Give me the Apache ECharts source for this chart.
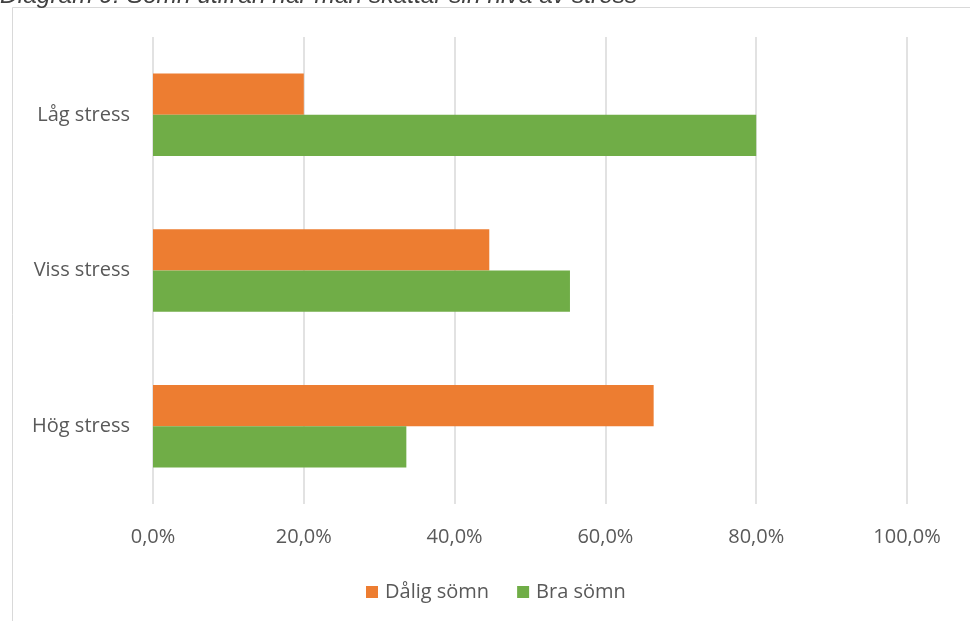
<!DOCTYPE html>
<html>
<head>
<meta charset="utf-8">
<script src="https://cdn.jsdelivr.net/npm/echarts@6/dist/echarts.min.js"></script>
<style>html,body{margin:0;padding:0;background:#fff}#c{width:970px;height:621px}</style>
</head>
<body>
<div id="c"></div>
<script>
const titleText = 'Diagram 9: Sömn utifrån när man skattar sin nivå av stress';
const categories = ['Låg stress', 'Viss stress', 'Hög stress'];
const seriesNames = ['Dålig sömn', 'Bra sömn'];
const daligSomn = [20.0, 44.6, 66.4];
const braSomn = [80.0, 55.3, 33.6];
const xTicks = [0, 20, 40, 60, 80, 100];

const chart = echarts.init(document.getElementById('c'), null, {renderer: 'canvas'});
const font = '"Open Sans", "Noto Sans", sans-serif';
chart.setOption({
  animation: false,
  backgroundColor: '#fff',
  graphic: [
    {type: 'rect', shape: {x: 12.5, y: 7.5, width: 980, height: 640}, style: {fill: 'none', stroke: '#D9D9D9', lineWidth: 1}, silent: true},
    {type: 'text', x: 0, y: -16, silent: true,
      style: {text: titleText, fontFamily: '"Liberation Sans", Arial, sans-serif', fontStyle: 'italic', fontSize: 24.5, fill: '#404040'}}
  ],
  grid: {left: 153, right: 63, top: 37, bottom: 117, containLabel: false},
  legend: {
    data: seriesNames, top: 577, left: 361,
    itemWidth: 12, itemHeight: 12, itemGap: 28, icon: 'rect',
    textStyle: {fontFamily: font, fontSize: 20, color: '#595959', padding: [0, 0, 0, 2]}
  },
  xAxis: {
    type: 'value', min: xTicks[0], max: xTicks[xTicks.length - 1], interval: 20,
    axisLine: {show: false}, axisTick: {show: false},
    splitLine: {show: true, lineStyle: {color: '#D9D9D9', width: 1.5}},
    axisLabel: {fontFamily: font, fontSize: 20, color: '#595959', margin: 23,
      formatter: v => v.toFixed(1).replace('.', ',') + '%'}
  },
  yAxis: {
    type: 'category', data: categories, inverse: true,
    axisLine: {show: false}, axisTick: {show: false},
    axisLabel: {fontFamily: font, fontSize: 20, color: '#595959', margin: 23}
  },
  series: [
    {name: seriesNames[0], type: 'bar', data: daligSomn, itemStyle: {color: '#ED7D31'}, barGap: '0%', barCategoryGap: '47%'},
    {name: seriesNames[1], type: 'bar', data: braSomn, itemStyle: {color: '#70AD47'}, barGap: '0%', barCategoryGap: '47%'}
  ]
});
</script>
</body>
</html>
